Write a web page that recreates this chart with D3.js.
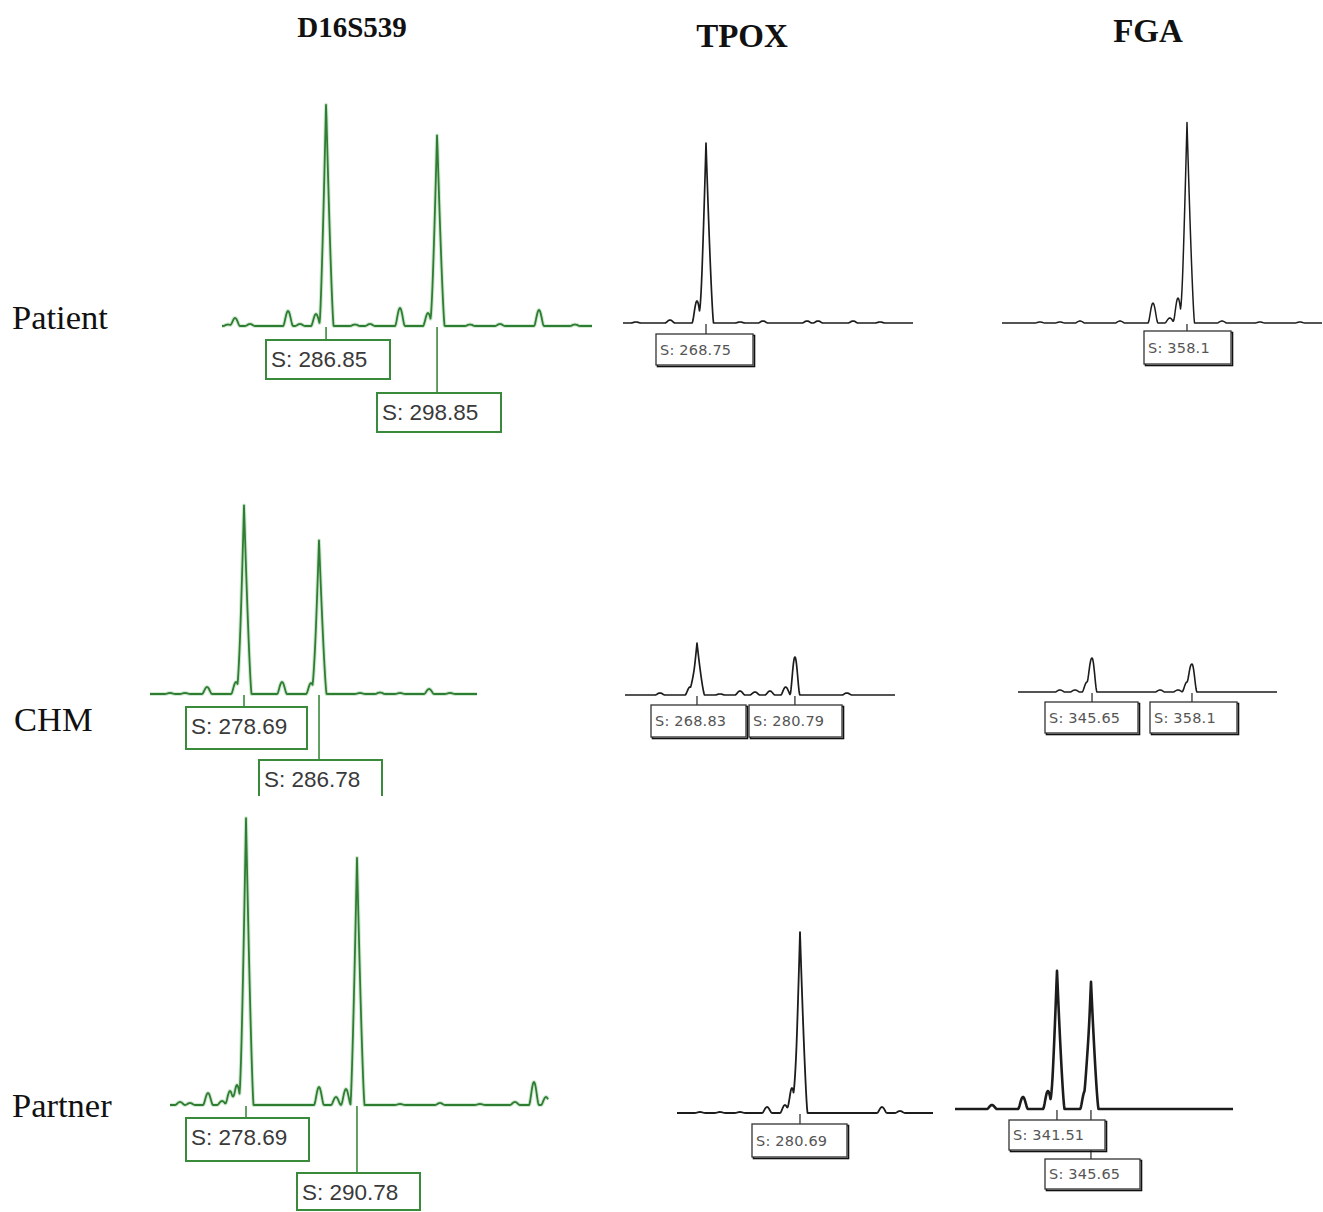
<!DOCTYPE html>
<html><head><meta charset="utf-8">
<script src="https://cdn.jsdelivr.net/npm/d3@7"></script>
<style>body{margin:0;background:#fff} svg{display:block}</style>
</head><body>
<svg id="chart" width="1323" height="1212"></svg>
<script>
// ---------------- DATA ----------------
const loci = ["D16S539", "TPOX", "FGA"];
const samples = ["Patient", "CHM", "Partner"];

// peak tables: [size (bp), height (RFU)]
const peaksD16Patient = [[276.25,15],[277.01,80],[278.63,20],[282.74,150],[284.03,20],[285.76,120],[286.85,2240],[289.98,15],[291.6,20],[294.84,180],[297.87,130],[298.85,1930],[302.41,15],[305.65,20],[309.87,160],[313.76,15]];
const peaksD16CHM = [[270.71,10],[272.33,10],[274.7,70],[277.83,120],[278.69,1890],[282.79,120],[285.92,110],[286.78,1540],[291.2,10],[293.36,15],[295.52,10],[298.65,50],[300.91,10]];
const peaksD16Partner = [[271.5,30],[272.59,20],[274.55,120],[276.08,40],[276.95,140],[277.71,200],[278.69,2870],[286.64,180],[288.49,80],[289.58,160],[290.78,2480],[295.47,10],[299.82,20],[304.18,10],[307.99,30],[310.06,230],[311.37,80]];
const peaksTPOXPatient = [[260.21,10],[264.36,30],[267.65,220],[268.75,1800],[272.9,10],[275.7,20],[281.07,20],[282.41,20],[286.68,20],[289.97,10]];
const peaksTPOXCHM = [[264.31,20],[267.98,80],[268.83,520],[271.64,10],[274.08,40],[275.91,30],[277.74,40],[279.66,80],[280.79,380],[287.14,20]];
const peaksTPOXPartner = [[268.49,10],[270.93,10],[273.37,10],[276.67,60],[278.86,80],[279.71,250],[280.69,1810],[290.69,60],[292.88,20]];
const peaksFGAPatient = [[339.95,10],[342.42,10],[344.89,20],[349.83,20],[353.9,200],[355.98,50],[356.99,250],[358.1,2010],[362.42,20],[367.11,10],[372.05,10]];
const peaksFGACHM = [[341.66,20],[343.53,20],[345.03,100],[345.65,340],[354.12,20],[356.36,20],[357.48,100],[358.1,280]];
const peaksFGAPartner = [[333.59,40],[337.37,120],[340.41,180],[341.51,1390],[344.92,180],[345.65,1280]];

// called allele sizes (label boxes)
const callsD16Patient = [286.85, 298.85];
const callsD16CHM = [278.69, 286.78];
const callsD16Partner = [278.69, 290.78];
const callsTPOXPatient = [268.75];
const callsTPOXCHM = [268.83, 280.79];
const callsTPOXPartner = [280.69];
const callsFGAPatient = [358.1];
const callsFGACHM = [345.65, 358.1];
const callsFGAPartner = [341.51, 345.65];

// size windows shown (bp), row-major: Patient, CHM, Partner x D16S539, TPOX, FGA
const sizeWindows = [[275.6,315.6],[258.63,293.99],[335.26,374.77],
                     [268.55,303.82],[260.04,293.01],[336.43,368.69],
                     [270.41,311.59],[265.69,296.91],[329.09,362.95]];
const rfuDomain = [0, 3000];

// ---------------- LAYOUT ----------------
const panelPeaks = [peaksD16Patient, peaksTPOXPatient, peaksFGAPatient,
                    peaksD16CHM, peaksTPOXCHM, peaksFGACHM,
                    peaksD16Partner, peaksTPOXPartner, peaksFGAPartner];
const panelCalls = [callsD16Patient, callsTPOXPatient, callsFGAPatient,
                    callsD16CHM, callsTPOXCHM, callsFGACHM,
                    callsD16Partner, callsTPOXPartner, callsFGAPartner];
const frames = [
  {x0:222, x1:592, base:326}, {x0:623, x1:913, base:323}, {x0:1002, x1:1322, base:323},
  {x0:150, x1:477, base:694}, {x0:625, x1:895, base:695}, {x0:1018, x1:1277, base:692},
  {x0:170, x1:548, base:1105}, {x0:677, x1:933, base:1113}, {x0:955, x1:1233, base:1109}
];
// label boxes: [left, top, width, height, openBottom]
const boxes = [
  [[266,340,124,39],[377,393,124,39]],
  [[656,334,97,31]],
  [[1144,331,87,33]],
  [[186,707,121,42],[259,760,123,36,true]],
  [[651,705,95,32],[749,705,93,32]],
  [[1045,702,93,31],[1150,702,87,31]],
  [[186,1118,123,43],[297,1173,123,37]],
  [[752,1124,95,33]],
  [[1009,1120,96,30],[1045,1159,95,30]]
];
const titlePos = [[352,37,29],[742,47,33],[1148,42,33]];
const rowLabelPos = [[12,329],[14,731],[12,1117]];
const traceWidth = [1.8,1.7,1.5, 1.8,1.7,1.6, 1.8,1.8,2.6];

const svg = d3.select("#chart");
const serif = "'Liberation Serif','Times New Roman',serif";

svg.selectAll("text.title").data(loci).join("text")
  .attr("class","title")
  .attr("x",(d,i)=>titlePos[i][0]).attr("y",(d,i)=>titlePos[i][1])
  .attr("text-anchor","middle").attr("font-family",serif)
  .attr("font-weight","bold").attr("font-size",(d,i)=>titlePos[i][2]).attr("fill","#111")
  .text(d=>d);

svg.selectAll("text.row").data(samples).join("text")
  .attr("class","row")
  .attr("x",(d,i)=>rowLabelPos[i][0]).attr("y",(d,i)=>rowLabelPos[i][1])
  .attr("font-family",serif).attr("font-size",34.5).attr("fill","#111")
  .text(d=>d);

panelPeaks.forEach((peaks, p) => {
  const f = frames[p];
  const col = p % 3;
  const green = col === 0;
  const x = d3.scaleLinear().domain(sizeWindows[p]).range([f.x0, f.x1]);
  const y = d3.scaleLinear().domain(rfuDomain).range([f.base, f.base - 300]);
  const pxPerBp = (f.x1 - f.x0) / (sizeWindows[p][1] - sizeWindows[p][0]);

  // trace rendered from the peak table: tall peaks sharp-topped, small peaks rounded humps
  const pts = [];
  for (let px = f.x0; px <= f.x1; px += 0.5) {
    const bp = x.invert(px);
    let v = 0;
    peaks.forEach(([s, h]) => {
      const d = bp - s;
      if (h >= 400) {
        const w = (d < 0 ? 6.5 : 7.5) / pxPerBp;
        if (Math.abs(d) < w) v += h * Math.pow(1 - Math.abs(d) / w, 1.3);
      } else {
        const w = 5 / pxPerBp;
        const u = d / w;
        if (Math.abs(u) < 1) v += h * Math.pow(1 - u * u, 2);
      }
    });
    pts.push([bp, v]);
  }
  const line = d3.line().x(d=>x(d[0])).y(d=>y(d[1])).curve(d3.curveLinear);
  const g = svg.append("g");
  if (green) {
    g.append("path").attr("d", line(pts)).attr("fill","none")
      .attr("stroke","#9ccf9e").attr("stroke-width",4).attr("stroke-opacity",0.45)
      .attr("stroke-linejoin","round");
  }
  g.append("path").attr("d", line(pts)).attr("fill","none")
    .attr("stroke", green ? "#2f7d32" : "#1c1c1c")
    .attr("stroke-width", traceWidth[p]).attr("stroke-linejoin","round");

  const calls = panelCalls[p];
  const stroke = green ? "#3a8a3c" : "#222";
  calls.forEach((c, i) => {
    const b = boxes[p][i];
    g.append("line").attr("x1", x(c)).attr("x2", x(c))
      .attr("y1", f.base + 1).attr("y2", b[1])
      .attr("stroke", stroke).attr("stroke-width", green ? 1.6 : 1.2);
  });
  calls.forEach((c, i) => {
    const [l, t, w, h, open] = boxes[p][i];
    if (green) {
      g.append("rect").attr("x",l).attr("y",t).attr("width",w).attr("height",h)
        .attr("fill","#fff").attr("stroke","none");
      if (open) {
        g.append("path").attr("d",`M${l},${t+h}V${t}H${l+w}V${t+h}`)
          .attr("fill","none").attr("stroke",stroke).attr("stroke-width",2);
      } else {
        g.append("rect").attr("x",l).attr("y",t).attr("width",w).attr("height",h)
          .attr("fill","none").attr("stroke",stroke).attr("stroke-width",2);
      }
      g.append("text").attr("x", l + 5).attr("y", t + 27)
        .attr("font-family","'Liberation Sans',Arial,sans-serif").attr("font-size",22.5)
        .attr("fill","#3a3a3a").text("S: " + c);
    } else {
      g.append("rect").attr("x",l+1.5).attr("y",t+1.5).attr("width",w).attr("height",h)
        .attr("fill","none").attr("stroke","#111").attr("stroke-width",1.6);
      g.append("rect").attr("x",l).attr("y",t).attr("width",w).attr("height",h)
        .attr("fill","#fff").attr("stroke","#333").attr("stroke-width",1.3);
      g.append("text").attr("x", l + 4).attr("y", t + h/2 + 5)
        .attr("font-family","'DejaVu Sans',sans-serif").attr("font-size",14.5)
        .attr("letter-spacing",0.2).attr("fill","#555").text("S: " + c);
    }
  });
});
</script>
</body></html>
